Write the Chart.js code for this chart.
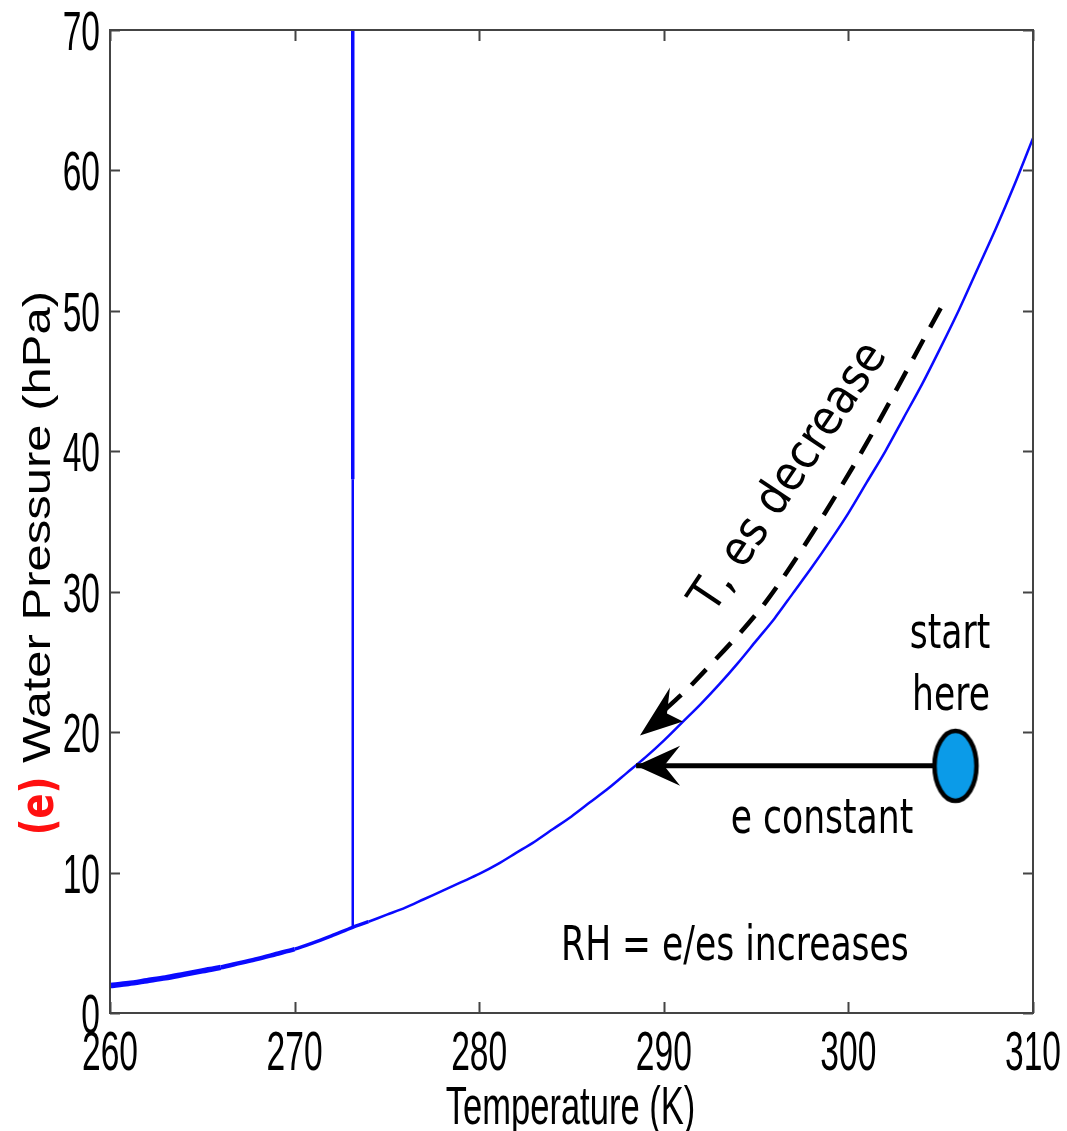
<!DOCTYPE html>
<html>
<head>
<meta charset="utf-8">
<script src="https://cdn.jsdelivr.net/npm/chart.js@4.4.1/dist/chart.umd.min.js"></script>
<style>
  html, body { margin: 0; padding: 0; background: #fff; }
  #wrap { width: 1067px; height: 1131px; }
</style>
</head>
<body>
<div id="wrap"><canvas id="c" width="1067" height="1131"></canvas></div>
<script>
// saturation curve (K, hPa)
const tempK = [260, 261, 262, 263, 264, 265, 266, 267, 268, 269, 270, 271, 272, 273.15, 274, 275, 276, 277, 278, 279, 280,
  281, 282, 283, 284, 285, 286, 287, 288, 289, 290, 291, 292, 293, 294, 295, 296, 297, 298, 299, 300,
  301, 302, 303, 304, 305, 306, 307, 308, 309, 310];
const esHpa = [1.95, 2.1, 2.3, 2.5, 2.75, 3.0, 3.25, 3.55, 3.85, 4.2, 4.55, 5.0, 5.5, 6.1, 6.5, 7.0, 7.5, 8.1, 8.7, 9.3, 9.9,
  10.6, 11.4, 12.2, 13.1, 14.0, 15.0, 16.0, 17.1, 18.2, 19.4, 20.7, 22.0, 23.4, 24.9, 26.5, 28.1, 29.9, 31.7, 33.6, 35.6,
  37.8, 40.0, 42.4, 44.8, 47.4, 50.1, 53.0, 55.9, 59.0, 62.3];

// melting line at 273.15 K
const meltT = [273.15, 273.15, 273.15];
const meltP = [6.1, 38, 70];

// start point and the two paths
const startT = [305.8];
const startP = [17.6];
const coolT = [305.8, 288.5];      // e constant
const coolP = [17.6, 17.6];
const dashT = [305.0, 300.25, 295.6, 291.6, 289.9];   // T, es decrease (follows the curve)
const dashP = [50.2, 38.9, 29.4, 23.5, 21.4];

const xTicks = [260, 270, 280, 290, 300, 310];
const yTicks = [0, 10, 20, 30, 40, 50, 60, 70];

const pts = (xs, ys) => xs.map((x, i) => ({ x: x, y: ys[i] }));

// ellipse marker
const dot = document.createElement('canvas');
dot.width = 52; dot.height = 78;
(function () {
  const g = dot.getContext('2d');
  g.beginPath();
  g.ellipse(26, 39, 21, 35, 0, 0, Math.PI * 2);
  g.fillStyle = '#0b9be8';
  g.fill();
  g.lineWidth = 4.5;
  g.strokeStyle = '#000';
  g.stroke();
})();

function txt(ctx, s, x, y, o) {
  ctx.save();
  ctx.translate(x, y);
  ctx.scale(o.sx || 1, 1);
  if (o.rot) ctx.rotate(o.rot);
  if (o.tx) ctx.scale(o.tx, 1);
  ctx.font = o.font;
  ctx.fillStyle = o.color || '#000';
  ctx.textAlign = o.align || 'center';
  ctx.textBaseline = o.base || 'alphabetic';
  ctx.fillText(s, 0, 0);
  ctx.restore();
}

// filled head, shape given as offsets from the tip
function head(ctx, px, py, shape) {
  ctx.beginPath();
  ctx.moveTo(px, py);
  shape.forEach(p => ctx.lineTo(px + p[0], py + p[1]));
  ctx.closePath();
  ctx.fillStyle = '#000';
  ctx.fill();
}

const frame = {
  id: 'frame',
  afterDatasetsDraw(chart) {
    const { ctx, scales: { x, y } } = chart;
    head(ctx, x.getPixelForValue(coolT[1]), y.getPixelForValue(coolP[1]), [[44, -20], [28, 0], [44, 20]]);
    const n = dashT.length - 1;
    const tx = x.getPixelForValue(dashT[n]) - 22, ty = y.getPixelForValue(dashP[n]) + 23;
    head(ctx, tx, ty, [[30, -48], [27, -22], [43, -14]]);
  },
  afterDraw(chart) {
    const { ctx, chartArea: a, scales: { x, y } } = chart;
    ctx.save();
    ctx.strokeStyle = '#444';
    ctx.lineWidth = 2;
    ctx.strokeRect(a.left, a.top, a.right - a.left, a.bottom - a.top);
    ctx.beginPath();
    xTicks.forEach(v => {
      const px = Math.round(x.getPixelForValue(v)) + 0.5;
      ctx.moveTo(px, a.bottom); ctx.lineTo(px, a.bottom - 11);
      ctx.moveTo(px, a.top); ctx.lineTo(px, a.top + 11);
    });
    yTicks.forEach(v => {
      const py = Math.round(y.getPixelForValue(v)) + 0.5;
      ctx.moveTo(a.left, py); ctx.lineTo(a.left + 10, py);
      ctx.moveTo(a.right, py); ctx.lineTo(a.right - 10, py);
    });
    ctx.stroke();
    ctx.restore();

    const tf = '56px "Liberation Sans", Arial, sans-serif';
    xTicks.forEach(v => txt(ctx, String(v), x.getPixelForValue(v), a.bottom + 57, { font: tf, sx: 0.6 }));
    yTicks.forEach(v => txt(ctx, String(v), a.left - 10, y.getPixelForValue(v) + 20, { font: tf, sx: 0.6, align: 'right' }));

    txt(ctx, 'Temperature (K)', (a.left + a.right) / 2 - 1, a.bottom + 111, { font: '54px "Liberation Sans", Arial, sans-serif', sx: 0.64 });
    txt(ctx, 'Water Pressure (hPa)', 50, 527, { font: '49px "Liberation Sans", Arial, sans-serif', sx: 0.79, rot: -Math.PI / 2 });
    txt(ctx, '(e)', 53, 806, { font: 'bold 46px "DejaVu Sans", "Liberation Sans", sans-serif', rot: -Math.PI / 2, tx: 0.8, color: '#ff1010' });

    const af = '48px "DejaVu Sans", sans-serif';
    txt(ctx, 'start', 950, 648, { font: af, sx: 0.72 });
    txt(ctx, 'here', 951, 710, { font: af, sx: 0.72 });
    txt(ctx, 'e constant', 822, 833, { font: af, sx: 0.72 });
    txt(ctx, 'RH = e/es increases', 735, 960, { font: af, sx: 0.72 });
    txt(ctx, 'T, es decrease', 790, 478, { font: af, rot: -0.98, tx: 0.9, base: 'middle' });
  }
};

new Chart(document.getElementById('c'), {
  type: 'scatter',
  data: {
    datasets: [
      {
        data: pts(startT, startP), pointStyle: dot, pointRadius: 26, showLine: false, order: 0
      },
      {
        data: pts(coolT, coolP), showLine: true, borderColor: '#000', borderWidth: 5,
        pointRadius: 0, order: 1
      },
      {
        data: pts(dashT, dashP), showLine: true, borderColor: '#000', borderWidth: 4.5,
        borderDash: [22, 14], tension: 0.3, pointRadius: 0, order: 2
      },
      {
        data: pts(tempK, esHpa), showLine: true, borderColor: '#0a0aff', borderWidth: 2.5,
        tension: 0.3, pointRadius: 0, order: 3,
        segment: {
          borderWidth: c => {
            const t = c.p1.parsed.x;
            return t <= 266 ? 5.5 : t <= 270 ? 4.5 : t <= 274 ? 3.5 : 2.5;
          }
        }
      },
      {
        data: pts(meltT, meltP), showLine: true, borderColor: '#0a0aff', borderWidth: 2.5,
        pointRadius: 0, order: 4,
        segment: { borderWidth: c => c.p0DataIndex >= 1 ? 3.5 : 2.5 }
      }
    ]
  },
  options: {
    responsive: false,
    animation: false,
    layout: { padding: { left: 110, top: 30, right: 34, bottom: 118 } },
    plugins: { legend: { display: false }, tooltip: { enabled: false } },
    scales: {
      x: { type: 'linear', min: 260, max: 310, display: false },
      y: { type: 'linear', min: 0, max: 70, display: false }
    }
  },
  plugins: [frame]
});
</script>
</body>
</html>
